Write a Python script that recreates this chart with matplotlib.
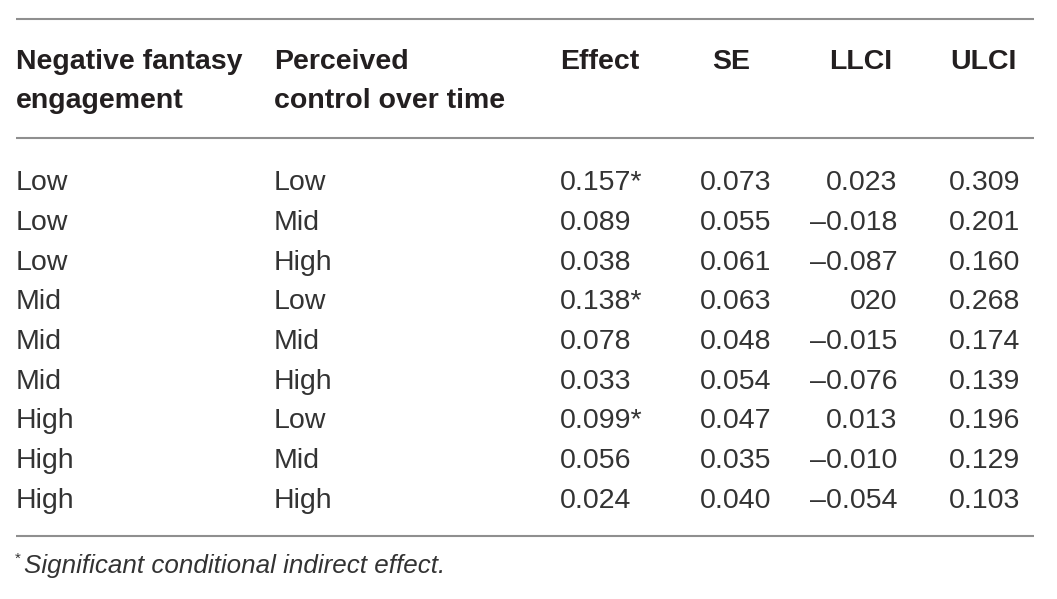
import matplotlib
matplotlib.use('Agg')
import matplotlib.pyplot as plt

# Данные таблицы
nfe = ['Low', 'Low', 'Low', 'Mid', 'Mid', 'Mid', 'High', 'High', 'High']
pcot = ['Low', 'Mid', 'High', 'Low', 'Mid', 'High', 'Low', 'Mid', 'High']
effect = ['0.157*', '0.089', '0.038', '0.138*', '0.078', '0.033', '0.099*', '0.056', '0.024']
se = ['0.073', '0.055', '0.061', '0.063', '0.048', '0.054', '0.047', '0.035', '0.040']
llci = ['0.023', '–0.018', '–0.087', '020', '–0.015', '–0.076', '0.013', '–0.010', '–0.054']
ulci = ['0.309', '0.201', '0.160', '0.268', '0.174', '0.139', '0.196', '0.129', '0.103']

headers = [
    ['Negative fantasy', 'engagement'],
    ['Perceived', 'control over time'],
    ['Effect'], ['SE'], ['LLCI'], ['ULCI'],
]
footnote = 'Significant conditional indirect effect.'

plt.rcParams['font.family'] = ['Liberation Sans', 'DejaVu Sans']
txt_color = '#231f20'
body_color = '#333333'
line_color = '#8f8f8f'

fig = plt.figure(figsize=(10.57, 5.99), dpi=100)
ax = fig.add_axes([0, 0, 1, 1])
ax.set_xlim(0, 1057)
ax.set_ylim(599, 0)
ax.axis('off')

# колонки: (x, выравнивание)
cols = [(16, 'left'), (274, 'left'), (560, 'left'), (736, 'center'), (897, 'right'), (985, 'center')]
head_cols = [(16, 'left'), (274, 'left'), (560, 'left'), (731, 'center'), (861, 'center'), (983, 'center')]

fs = 20.5

# линии таблицы
for y in [19, 138, 536]:
    ax.plot([16, 1034], [y, y], color=line_color, lw=1.5, solid_capstyle='butt')

# заголовки
for (x, ha), lines in zip(head_cols, headers):
    for k, s in enumerate(lines):
        ax.text(x, 69 + k * 39.5, s, ha=ha, va='baseline', fontsize=fs,
                fontweight='bold', color=txt_color)

# строки
columns = [nfe, pcot, effect, se, llci, ulci]
for i in range(len(nfe)):
    yb = 190 + i * 39.75
    for (x, ha), col in zip(cols, columns):
        ax.text(x, yb, col[i], ha=ha, va='baseline', fontsize=fs, color=body_color)

# примечание
ax.text(15, 563, '*', ha='left', va='baseline', fontsize=11, color=body_color)
ax.text(24, 573, footnote, ha='left', va='baseline', fontsize=18.7,
        style='italic', color=body_color)

fig.savefig('out.png', dpi=100)
